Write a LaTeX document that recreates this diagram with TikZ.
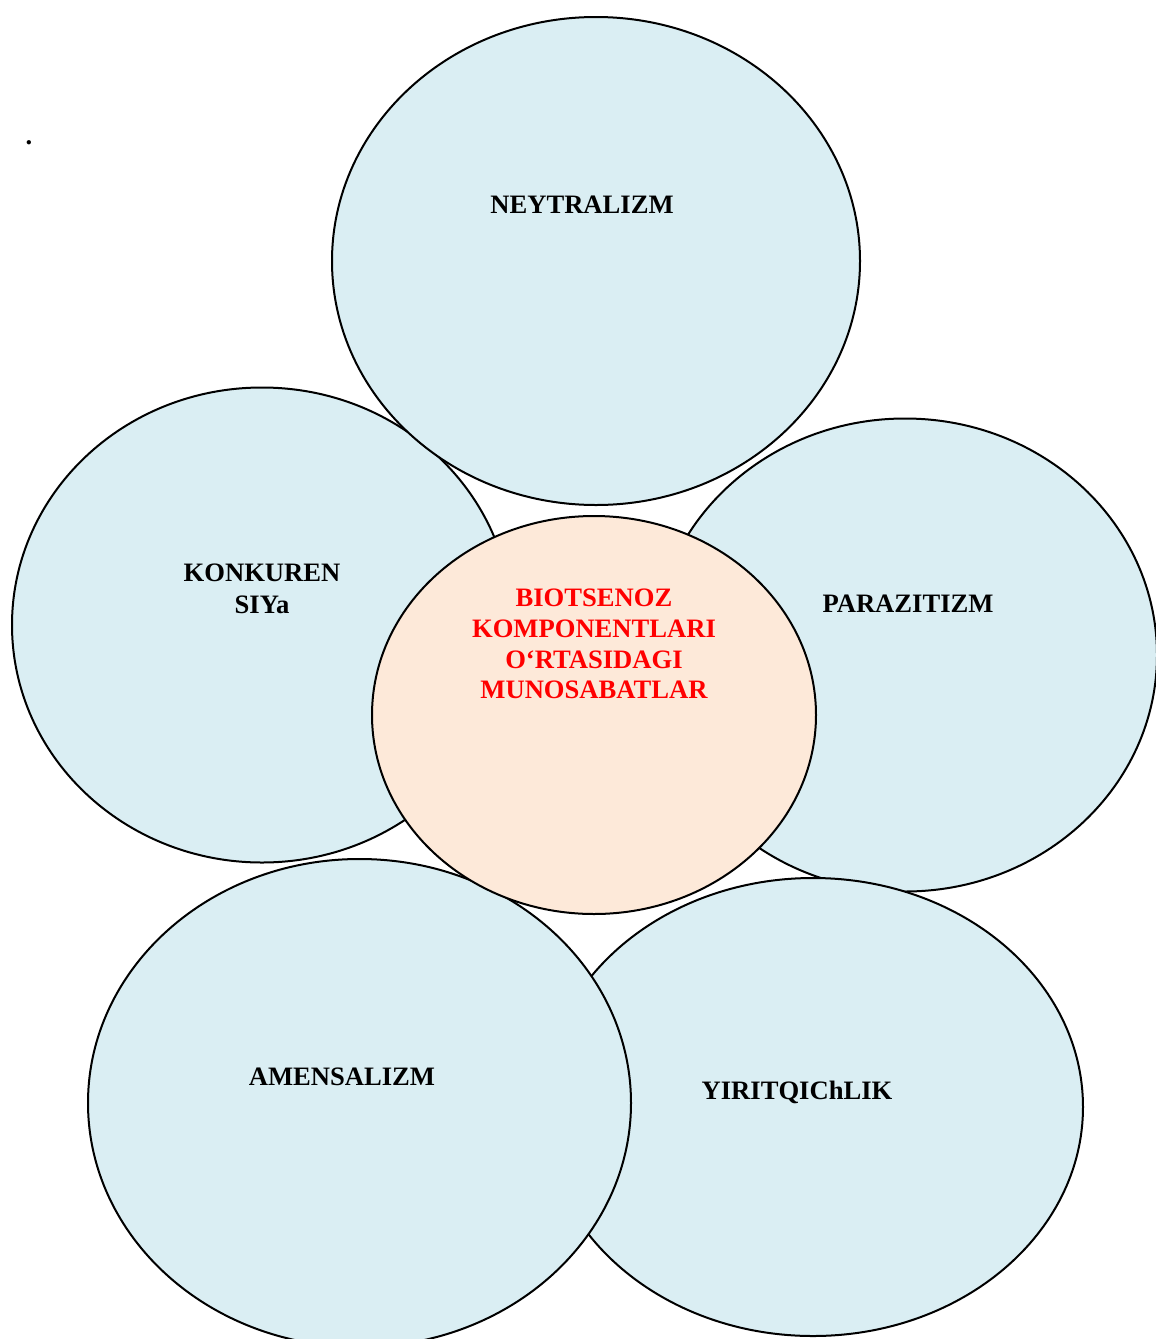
\documentclass[tikz,border=0pt]{standalone}
\usepackage{fontspec}
\setmainfont{Liberation Serif}
\usetikzlibrary{shapes.geometric}
\definecolor{petalblue}{HTML}{DAEEF3}
\definecolor{corepeach}{HTML}{FDE9D9}
\definecolor{corered}{HTML}{FF0000}
\begin{document}
\begin{tikzpicture}[x=0.5pt,y=-0.5pt,
  petal/.style={ellipse, draw=black, line width=1pt, fill=petalblue, inner sep=0pt},
  corebox/.style={ellipse, draw=black, line width=1pt, fill=corepeach, inner sep=0pt},
  lbl/.style={font=\bfseries\fontsize{13.3pt}{16pt}\selectfont, align=center, inner sep=0pt},
  corelbl/.style={lbl, text=corered, font=\bfseries\fontsize{13.3pt}{15.35pt}\selectfont}
]
\useasboundingbox (0,0) rectangle (1156,1339);
\clip (0,0) rectangle (1156,1339);

% outer petals, back to front
\node[petal, minimum width=500pt*0.5, minimum height=475pt*0.5] (konk) at (262,625) {};
\node[petal, minimum width=504pt*0.5, minimum height=473pt*0.5] (para) at (905,655) {};
\node[petal, minimum width=528pt*0.5, minimum height=488pt*0.5] (neyt) at (596,261) {};
\node[petal, minimum width=540pt*0.5, minimum height=458pt*0.5] (yirit) at (813,1107) {};
\node[petal, minimum width=543pt*0.5, minimum height=488pt*0.5] (amen) at (359.5,1103) {};

% central ellipse
\node[corebox, minimum width=444pt*0.5, minimum height=398pt*0.5] (core) at (594,715) {};

% labels
\node[lbl] (tneyt) at (582,205) {NEYTRALIZM};
\node[lbl] (tkonk) at (262,589) {KONKUREN\\SIYa};
\node[lbl] (tpara) at (908,604) {PARAZITIZM};
\node[lbl] (tamen) at (342,1077) {AMENSALIZM};
\node[lbl] (tyirit) at (797,1092) {YIRITQIChLIK};
\node[corelbl] (tcore) at (594,644) {BIOTSENOZ\\KOMPONENTLARI\\O‘RTASIDAGI\\MUNOSABATLAR};

\node[lbl] (dot) at (29,143) {.};
\end{tikzpicture}
\end{document}
